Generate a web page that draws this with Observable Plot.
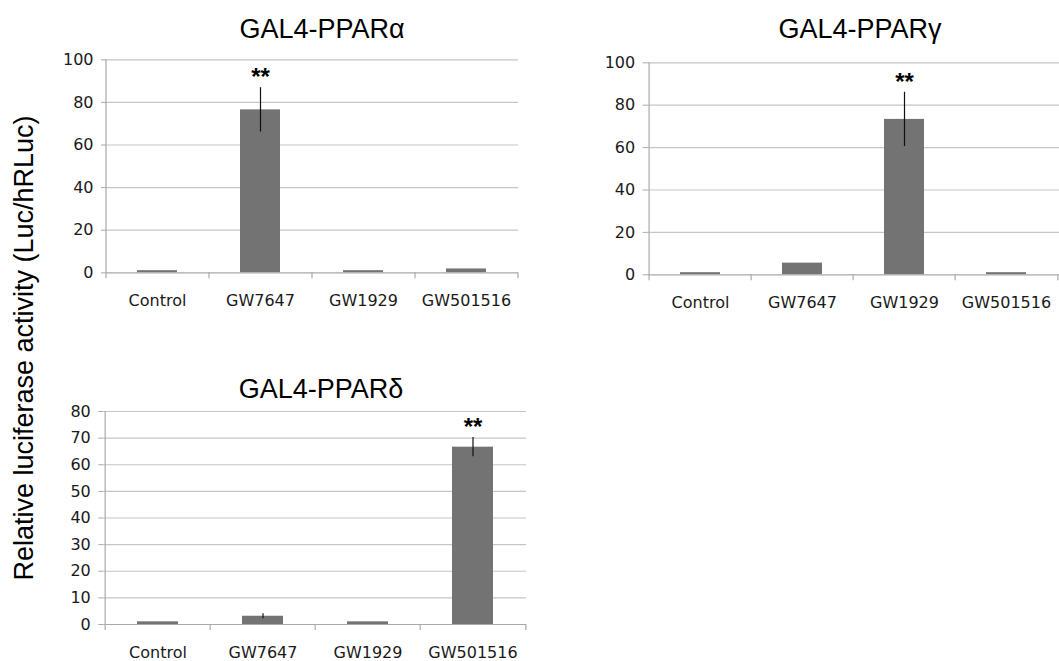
<!DOCTYPE html>
<html>
<head>
<meta charset="utf-8">
<script src="https://cdn.jsdelivr.net/npm/d3@7"></script>
<script src="https://cdn.jsdelivr.net/npm/@observablehq/plot@0.6"></script>
<style>
  html, body { margin: 0; padding: 0; background: #fff; }
  #wrap { position: relative; width: 1059px; height: 661px; overflow: hidden; background: #fff; }
  .panel { position: absolute; }
  #overlay { position: absolute; left: 0; top: 0; pointer-events: none; }
</style>
</head>
<body>
<div id="wrap">
  <div id="p1" class="panel" style="left:0px; top:0px;"></div>
  <div id="p2" class="panel" style="left:540px; top:0px;"></div>
  <div id="p3" class="panel" style="left:0px; top:340px;"></div>
  <svg id="overlay" width="1059" height="661"></svg>
</div>
<script>
// ---- data ----
const categories = ["Control", "GW7647", "GW1929", "GW501516"];

const alphaTitle = "GAL4-PPARα";
const alphaValues = [1.0, 76.5, 1.0, 1.8];
const alphaErrors = [0, 10.4, 0, 0];
const alphaSignificant = [false, true, false, false];
const alphaTicks = [0, 20, 40, 60, 80, 100];

const gammaTitle = "GAL4-PPARγ";
const gammaValues = [1.0, 5.5, 73.3, 1.0];
const gammaErrors = [0, 0, 12.8, 0];
const gammaSignificant = [false, false, true, false];
const gammaTicks = [0, 20, 40, 60, 80, 100];

const deltaTitle = "GAL4-PPARδ";
const deltaValues = [1.0, 3.1, 1.0, 66.6];
const deltaErrors = [0, 0.9, 0, 3.6];
const deltaSignificant = [false, false, false, true];
const deltaTicks = [0, 10, 20, 30, 40, 50, 60, 70, 80];

const yLabel = "Relative luciferase activity (Luc/hRLuc)";
const starText = "**";

// ---- styles ----
const BAR = "#737373";
const GRID = "#c6c6c6";
const AXIS = "#a9a9a9";

function panel(el, values, errors, sig, ticks, geom) {
  const rows = categories.map((c, i) => ({cat: c, v: values[i], e: errors[i], s: sig[i]}));
  const plotW = geom.width - geom.ml - geom.mr;
  const plotH = geom.height - geom.mt - geom.mb;
  const step = plotW / categories.length;
  const chart = Plot.plot({
    width: geom.width,
    height: geom.height,
    marginLeft: geom.ml,
    marginRight: geom.mr,
    marginTop: geom.mt,
    marginBottom: geom.mb,
    style: {fontFamily: "DejaVu Sans", fontSize: "16px", color: "#1a1a1a", background: "transparent", overflow: "visible"},
    x: {domain: categories, paddingInner: 0.61, paddingOuter: 0.305, label: null},
    y: {domain: [ticks[0], ticks[ticks.length - 1]], label: null},
    marks: [
      Plot.ruleY(ticks.slice(1), {stroke: GRID, strokeWidth: 1.2}),
      Plot.barY(rows, {x: "cat", y: "v", fill: BAR}),
      Plot.ruleY([0], {stroke: AXIS, strokeWidth: 1.2}),
      Plot.ruleX([categories[0]], {x: d => d, dx: -step / 2, insetBottom: -6, stroke: AXIS, strokeWidth: 1.2}),
      Plot.ruleX(categories.slice(1), {x: d => d, dx: -step / 2, insetTop: plotH, insetBottom: -6, stroke: AXIS, strokeWidth: 1.2}),
      Plot.ruleX([categories[categories.length - 1]], {x: d => d, dx: step / 2, insetTop: plotH, insetBottom: -6, stroke: AXIS, strokeWidth: 1.2}),
      Plot.ruleX(rows.filter(d => d.e > 0), {x: "cat", y1: d => d.v - d.e, y2: d => d.v + d.e, stroke: "#111", strokeWidth: 1.2}),
      Plot.text(rows.filter(d => d.s), {x: "cat", y: d => d.v + d.e, text: () => starText, dy: -10, fontFamily: "Liberation Sans", fontWeight: "bold", fontSize: 24, fill: "#000"}),
      Plot.axisY({ticks, tickSize: 5, tickPadding: 8, stroke: AXIS, fill: "#1a1a1a", label: null, tickFormat: d => String(d)}),
      Plot.axisX({tickSize: 0, tickPadding: 22, fill: "#1a1a1a", label: null})
    ]
  });
  document.getElementById(el).appendChild(chart);
}

panel("p1", alphaValues, alphaErrors, alphaSignificant, alphaTicks,
  {width: 530, height: 320, ml: 106, mr: 12, mt: 59.3, mb: 47.7});
panel("p2", gammaValues, gammaErrors, gammaSignificant, gammaTicks,
  {width: 519, height: 320, ml: 107.7, mr: 0, mt: 62.3, mb: 45.7});
panel("p3", deltaValues, deltaErrors, deltaSignificant, deltaTicks,
  {width: 540, height: 321, ml: 103.3, mr: 14, mt: 71, mb: 37});

// ---- titles and shared y label ----
const ov = d3.select("#overlay");
const titles = [
  {t: alphaTitle, x: 322, y: 38},
  {t: gammaTitle, x: 860, y: 38},
  {t: deltaTitle, x: 321, y: 398}
];
ov.selectAll("text.title").data(titles).join("text")
  .attr("class", "title")
  .attr("x", d => d.x).attr("y", d => d.y)
  .attr("text-anchor", "middle")
  .attr("font-family", "Liberation Sans, Arial, sans-serif")
  .attr("font-size", 27)
  .attr("fill", "#000")
  .text(d => d.t);
ov.append("text")
  .attr("transform", "translate(33,348) rotate(-90)")
  .attr("text-anchor", "middle")
  .attr("font-family", "Liberation Sans, Arial, sans-serif")
  .attr("font-size", 27)
  .attr("fill", "#000")
  .text(yLabel);
</script>
</body>
</html>
